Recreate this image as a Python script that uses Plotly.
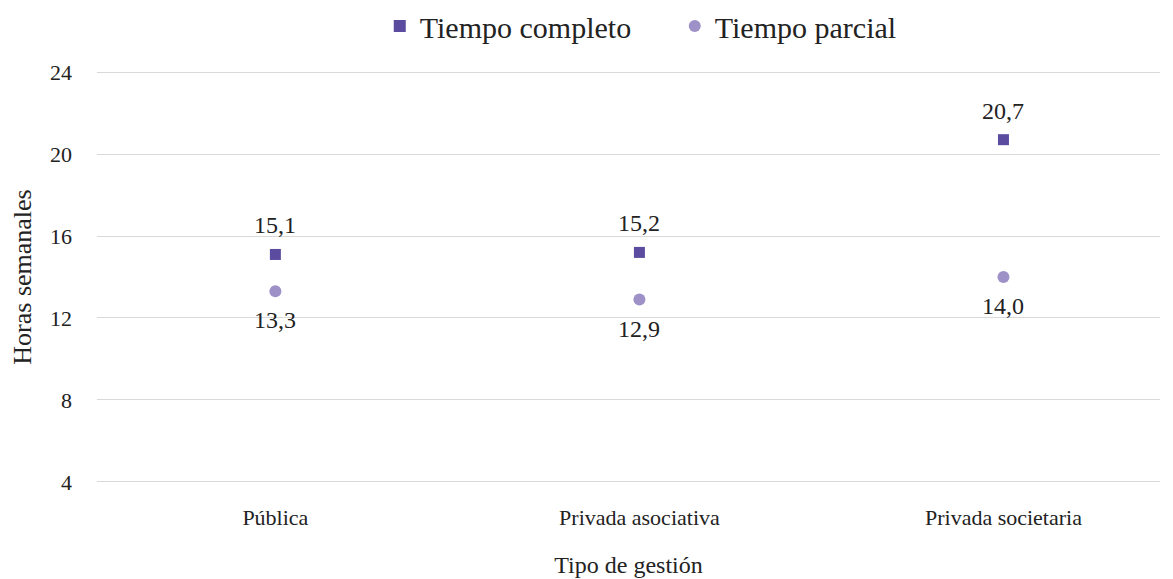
import plotly.graph_objects as go

categorias = ["Pública", "Privada asociativa", "Privada societaria"]
tiempo_completo = [15.1, 15.2, 20.7]
tiempo_parcial = [13.3, 12.9, 14.0]
y_ticks = [4, 8, 12, 16, 20, 24]

FONT = "Liberation Serif, Times New Roman, serif"
TXT = "#222222"

def fmt(v):
    return f"{v:.1f}".replace(".", ",")

fig = go.Figure()
fig.add_trace(go.Scatter(
    x=categorias, y=tiempo_completo, mode="markers", name="Tiempo completo",
    marker=dict(symbol="square", size=11, color="#5b4c9f"),
))
fig.add_trace(go.Scatter(
    x=categorias, y=tiempo_parcial, mode="markers", name="Tiempo parcial",
    marker=dict(symbol="circle", size=12, color="#9d91c7"),
))

annotations = []
for c, v in zip(categorias, tiempo_completo):
    annotations.append(dict(x=c, y=v, xref="x", yref="y", text=fmt(v), showarrow=False,
                            yshift=29, font=dict(family=FONT, size=24, color=TXT)))
for c, v in zip(categorias, tiempo_parcial):
    annotations.append(dict(x=c, y=v, xref="x", yref="y", text=fmt(v), showarrow=False,
                            yshift=-29, font=dict(family=FONT, size=24, color=TXT)))

fig.update_layout(
    width=1173, height=579,
    margin=dict(l=89, r=21, t=62, b=103, autoexpand=False),
    paper_bgcolor="white", plot_bgcolor="white",
    font=dict(family=FONT, color=TXT),
    annotations=annotations,
    legend=dict(orientation="h", x=0.266, xanchor="left", y=1.106, yanchor="middle",
                font=dict(family=FONT, size=30, color=TXT), itemsizing="constant",
                traceorder="normal", entrywidth=250, entrywidthmode="pixels"),
    xaxis=dict(
        type="category", range=[-0.49, 2.43], showgrid=False, zeroline=False,
        showline=False, ticks="", tickfont=dict(family=FONT, size=22, color=TXT),
        ticklabelstandoff=18, automargin=False,
        title=dict(text="Tipo de gestión", font=dict(family=FONT, size=24, color=TXT), standoff=27),
    ),
    yaxis=dict(
        range=[3.9, 24.1], tickvals=y_ticks, ticktext=[str(t) for t in y_ticks],
        showgrid=True, gridcolor="#d9d9d9", gridwidth=1, zeroline=False, showline=False,
        ticks="", tickfont=dict(family=FONT, size=22, color=TXT),
        ticklabelstandoff=24, automargin=False,
        title=dict(text="Horas semanales", font=dict(family=FONT, size=26, color=TXT), standoff=16),
    ),
)

fig.write_html("out.html")
